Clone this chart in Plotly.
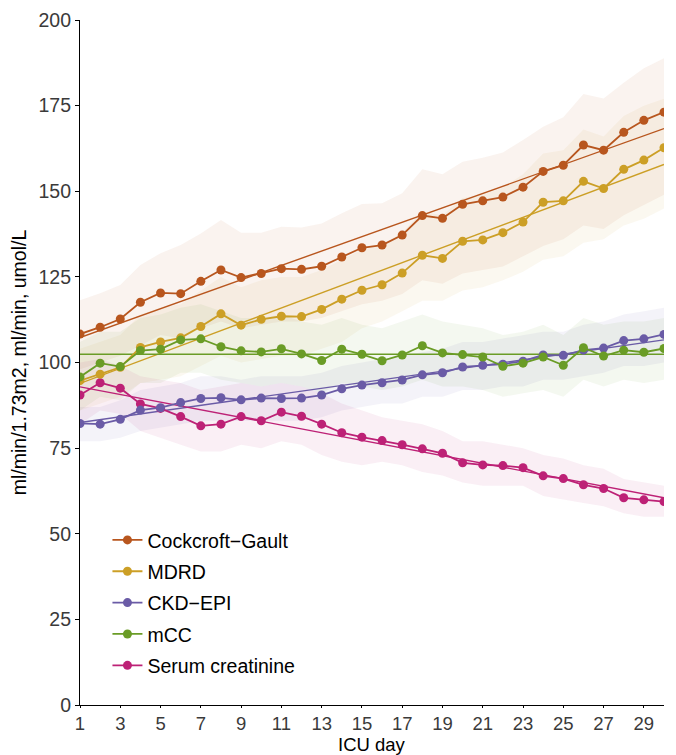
import plotly.graph_objects as go

# ICU days 1..30
days = list(range(1, 31))

series_names = ["Cockcroft\u2212Gault", "MDRD", "CKD\u2212EPI", "mCC", "Serum creatinine"]
series_colors = ["#B8561E", "#CC9F26", "#6A5BA6", "#6A9C26", "#BD2176"]

# daily means
cg = [108.3, 110.3, 112.7, 117.6, 120.3, 120.1, 123.7, 127.0, 124.8, 126.0,
      127.4, 127.2, 128.1, 130.8, 133.5, 134.3, 137.2, 142.9, 142.1, 146.2,
      147.2, 148.3, 151.2, 155.8, 157.6, 163.5, 162.0, 167.2, 170.7, 173.1]
mdrd = [94.7, 96.6, 98.6, 104.4, 106.0, 107.2, 110.5, 114.2, 110.9, 112.6,
        113.5, 113.4, 115.5, 118.5, 121.1, 122.7, 126.1, 131.3, 130.4, 135.4,
        135.8, 137.9, 141.0, 146.8, 147.2, 152.9, 150.8, 156.4, 159.1, 162.7]
ckd = [82.2, 82.0, 83.4, 86.1, 86.8, 88.3, 89.5, 89.7, 89.1, 89.6,
       89.5, 89.6, 90.5, 92.3, 93.4, 94.1, 94.9, 96.4, 97.0, 98.7,
       99.2, 99.5, 100.4, 102.2, 102.1, 103.6, 104.2, 106.4, 106.9, 108.2]
mcc = [95.8, 99.8, 98.8, 103.5, 103.9, 106.6, 106.9, 104.6, 103.4, 103.1,
       104.0, 102.5, 100.6, 103.9, 102.4, 100.5, 102.2, 104.9, 102.8, 102.3,
       101.6, 98.9, 99.8, 101.6, 99.2, 104.3, 101.9, 103.6, 103.0, 104.1]
scr = [90.5, 94.1, 92.5, 87.9, 86.6, 84.2, 81.5, 82.0, 84.2, 83.0,
       85.5, 84.3, 82.0, 79.5, 78.2, 77.2, 76.0, 74.8, 73.5, 70.7,
       70.1, 69.9, 69.3, 66.9, 66.1, 64.3, 63.2, 60.5, 59.9, 59.4]

# 95% bands (upper / lower)
cg_hi = [118.2, 120.2, 122.6, 128.5, 131.9, 134.3, 137.7, 141.6, 137.9, 137.9,
         139.6, 139.4, 140.6, 143.6, 146.3, 146.5, 149.4, 156.4, 155.0, 158.6,
         159.8, 161.3, 165.0, 168.8, 171.6, 178.4, 177.1, 181.7, 185.9, 188.8]
cg_lo = [98, 100, 102, 105, 108, 107, 110, 112, 110, 111,
         112, 112, 113, 115, 117, 118, 120, 124, 123, 126,
         127, 128, 131, 134, 136, 140, 139, 143, 146, 149]
mdrd_hi = [104, 106, 108, 114, 116, 117, 121, 125, 122, 124,
           125, 125, 127, 130, 133, 134, 138, 144, 143, 148,
           149, 151, 155, 161, 162, 168, 166, 172, 175, 177]
mdrd_lo = [86, 88, 90, 94, 95, 96, 99, 102, 100, 101,
           102, 102, 104, 106, 110, 112, 115, 118, 118, 121,
           122, 124, 126.5, 130, 131, 135, 136, 140, 142, 145]
ckd_hi = [87, 87, 89, 92, 93, 94, 96, 96, 95, 96,
          96, 96, 97, 99, 100, 101, 102, 103, 104, 106,
          106, 107, 108, 109, 109, 111, 112, 114, 115, 116]
ckd_lo = [77, 77, 78, 80, 81, 82, 83, 83, 83, 83,
          83, 83, 84, 86, 87, 88, 88, 90, 90, 92,
          92, 93, 93, 95, 95, 96, 97, 99, 99, 100]
mcc_hi = [106, 109, 109, 113, 114, 116, 117, 115, 113, 113,
          114, 112, 111, 113, 111, 110, 112, 114, 112, 111,
          110, 108, 109, 111, 108, 113, 111, 112, 112, 113]
mcc_lo = [86, 90, 89, 94, 94, 97, 97, 95, 94, 93,
          94, 93, 91, 94, 93, 92, 93, 95, 93, 93,
          92, 90, 91, 92, 90, 95, 93, 95, 94, 95]
scr_hi = [100, 101, 99, 96, 95, 94, 92, 93, 94, 93,
          94, 93, 91, 88, 86, 84, 83, 82, 80, 77,
          77, 76, 75, 73, 72, 70, 69, 66, 65, 64]
scr_lo = [82, 86, 85, 80, 78, 76, 74, 74, 76, 75,
          77, 76, 73, 71, 70, 71, 70, 68, 67, 65,
          64, 64, 64, 61, 60, 59, 58, 56, 55, 55]

# linear trend, value on day 1 and day 30
trend_first = [107.3, 93.9, 82.5, 102.4, 92.9]
trend_last = [168.3, 157.8, 106.6, 102.4, 60.5]

x_ticks = list(range(1, 30, 2))
y_ticks = [0, 25, 50, 75, 100, 125, 150, 175, 200]

means = [cg, mdrd, ckd, mcc, scr]
uppers = [cg_hi, mdrd_hi, ckd_hi, mcc_hi, scr_hi]
lowers = [cg_lo, mdrd_lo, ckd_lo, mcc_lo, scr_lo]


def rgba(hex_color, alpha):
    h = hex_color.lstrip("#")
    r, g, b = int(h[0:2], 16), int(h[2:4], 16), int(h[4:6], 16)
    return f"rgba({r},{g},{b},{alpha})"


FONT = "Liberation Sans, Arial, sans-serif"
fig = go.Figure()

# ribbons
for i, name in enumerate(series_names):
    fig.add_trace(go.Scatter(
        x=days + days[::-1],
        y=uppers[i] + lowers[i][::-1],
        fill="toself", fillcolor=rgba(series_colors[i], 0.07),
        line=dict(width=0), mode="lines",
        hoverinfo="skip", showlegend=False,
    ))

# trend lines
for i, name in enumerate(series_names):
    fig.add_trace(go.Scatter(
        x=[days[0], days[-1]], y=[trend_first[i], trend_last[i]],
        mode="lines", line=dict(color=series_colors[i], width=1.4),
        hoverinfo="skip", showlegend=False,
    ))

# daily means, drawn so the crossing points overlap the same way
draw_order = [4, 0, 1, 2, 3]
for i in draw_order:
    fig.add_trace(go.Scatter(
        x=days, y=means[i], name=series_names[i],
        mode="lines+markers",
        line=dict(color=series_colors[i], width=1.8),
        marker=dict(color=series_colors[i], size=9),
        legendgroup=series_names[i], legendrank=i + 1,
    ))

axis_common = dict(
    showline=True, linecolor="black", linewidth=1.2,
    ticks="outside", ticklen=4, tickwidth=1.1, tickcolor="black",
    showgrid=False, zeroline=False, automargin=False,
    tickfont=dict(family=FONT, size=19.5, color="#3a3a3a"),
)

fig.update_xaxes(range=[1, 30], tickvals=x_ticks, **axis_common)
fig.update_xaxes(ticklen=2, tickfont=dict(family=FONT, size=18.5, color="#3a3a3a"))
fig.update_yaxes(
    range=[0, 200], tickvals=y_ticks,
    title=dict(text="ml/min/1.73m2, ml/min, umol/L", font=dict(family=FONT, size=19.5, color="black"), standoff=6),
    **axis_common,
)

# x-axis title sits at the bottom edge, under the tick labels
fig.add_annotation(
    text="ICU day", xref="paper", yref="paper", x=0.5, y=-0.0765,
    xanchor="center", yanchor="bottom", showarrow=False,
    font=dict(family=FONT, size=18.5, color="black"),
)

fig.update_layout(
    width=676, height=755,
    margin=dict(l=80, r=12, t=20, b=50),
    plot_bgcolor="white", paper_bgcolor="white",
    font=dict(family=FONT, size=19.5, color="black"),
    legend=dict(
        x=0.047, y=0.269, xanchor="left", yanchor="top",
        traceorder="grouped", tracegroupgap=3,
        bgcolor="rgba(0,0,0,0)", borderwidth=0,
        font=dict(family=FONT, size=19.5, color="black"),
        itemwidth=30,
    ),
    showlegend=True,
)

fig.write_html("out.html")
